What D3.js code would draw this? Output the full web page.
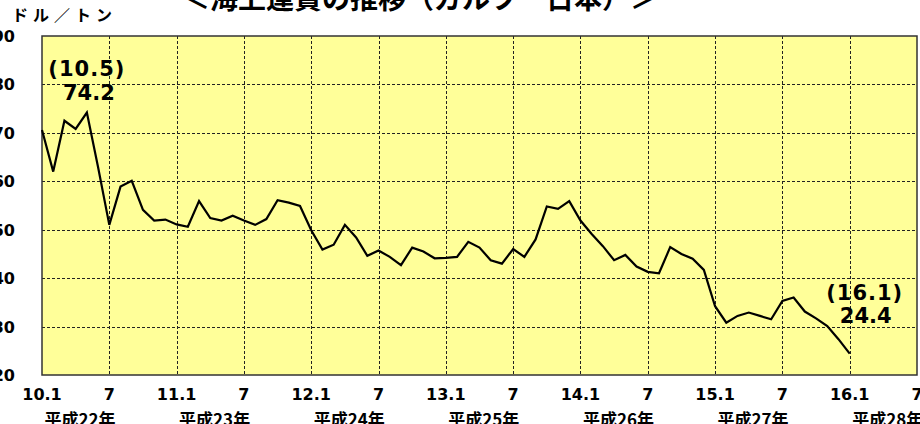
<!DOCTYPE html>
<html>
<head>
<meta charset="utf-8">
<script src="https://cdn.jsdelivr.net/npm/d3@7"></script>
<style>
  body { margin: 0; background: #fff; }
  svg { display: block; }
</style>
</head>
<body>
<svg id="chart" width="920" height="424"></svg>
<script>
// monthly freight, 2010.1 .. 2016.1 (USD/t)
const freight = [
    70.6, 62.0, 72.5, 70.8, 74.2, 62.9, 51.0, 58.9, 60.1, 54.1, 51.9, 52.1,
    51.1, 50.6, 55.9, 52.4, 51.9, 52.9, 51.9, 51.0, 52.2, 56.1, 55.6, 54.9,
    49.9, 45.9, 46.9, 51.0, 48.4, 44.6, 45.7, 44.4, 42.7, 46.3, 45.5, 44.1,
    44.2, 44.4, 47.5, 46.3, 43.7, 43.0, 46.0, 44.4, 48.0, 54.8, 54.3, 55.9,
    51.9, 49.1, 46.6, 43.7, 44.8, 42.4, 41.3, 41.0, 46.4, 45.0, 44.0, 41.7,
    34.2, 30.8, 32.2, 32.9, 32.2, 31.5, 35.3, 36.0, 33.1, 31.7, 30.1, 27.4,
    24.4
];
const tickLabels = ["10.1", "7", "11.1", "7", "12.1", "7", "13.1", "7", "14.1", "7", "15.1", "7", "16.1", "7"];
const eraLabels = ["平成22年", "平成23年", "平成24年", "平成25年", "平成26年", "平成27年", "平成28年"];
const yTicks = [20, 30, 40, 50, 60, 70, 80, 90];
const notes = [
    { month: 4, label: "(10.5)", value: "74.2" },
    { month: 72, label: "(16.1)", value: "24.4" }
];

const svg = d3.select("#chart");
const plotL = 42, plotR = 917, plotT = 36, plotB = 375;
const latin = "'DejaVu Sans', sans-serif";
const jp = "'Noto Sans CJK JP', sans-serif";

const x = d3.scaleLinear().domain([0, 78]).range([plotL, plotR]);
const y = d3.scaleLinear().domain([20, 90]).range([plotB, plotT]);

// title, cut off by the top of the picture
svg.append("text")
    .attr("x", 420).attr("y", 9)
    .attr("text-anchor", "middle")
    .attr("font-family", jp).attr("font-weight", "bold").attr("font-size", 28)
    .text("＜海上運賃の推移（ガルフ－日本）＞");

svg.append("text")
    .attr("x", 12).attr("y", 21)
    .attr("font-family", jp).attr("font-weight", "bold").attr("font-size", 16)
    .attr("letter-spacing", 5)
    .text("ドル／トン");

// plot background
svg.append("rect")
    .attr("x", plotL).attr("y", plotT)
    .attr("width", plotR - plotL).attr("height", plotB - plotT)
    .attr("fill", "#ffff99");

// grid
const grid = svg.append("g")
    .attr("stroke", "#222").attr("stroke-width", 1).attr("stroke-dasharray", "3,2");
grid.selectAll("line.h")
    .data(yTicks.slice(1, -1))
    .join("line")
    .attr("x1", plotL).attr("x2", plotR)
    .attr("y1", d => Math.round(y(d)) + 0.5).attr("y2", d => Math.round(y(d)) + 0.5);
grid.selectAll("line.v")
    .data(d3.range(6, 78, 6))
    .join("line")
    .attr("y1", plotT).attr("y2", plotB)
    .attr("x1", d => Math.round(x(d)) + 0.5).attr("x2", d => Math.round(x(d)) + 0.5);

// frame
svg.append("rect")
    .attr("x", plotL).attr("y", plotT)
    .attr("width", plotR - plotL).attr("height", plotB - plotT)
    .attr("fill", "none").attr("stroke", "#333").attr("stroke-width", 1.5);

// y labels (partly cut at left edge)
svg.append("g").selectAll("text")
    .data(yTicks)
    .join("text")
    .attr("x", 15).attr("y", d => y(d) + 6)
    .attr("text-anchor", "end")
    .attr("font-family", latin).attr("font-weight", "bold").attr("font-size", 16)
    .text(d => d);

// x labels
svg.append("g").selectAll("text")
    .data(tickLabels)
    .join("text")
    .attr("x", (d, i) => x(i * 6))
    .attr("y", 400)
    .attr("text-anchor", "middle")
    .attr("font-family", latin).attr("font-weight", "bold").attr("font-size", 16)
    .text(d => d);

svg.append("g").selectAll("text")
    .data(eraLabels)
    .join("text")
    .attr("x", (d, i) => x(i * 12) + 38)
    .attr("y", 426)
    .attr("text-anchor", "middle")
    .attr("font-family", jp).attr("font-weight", "bold").attr("font-size", 17)
    .text(d => d);

// line
const line = d3.line()
    .x((d, i) => x(i))
    .y(d => y(d));

svg.append("path")
    .datum(freight)
    .attr("d", line)
    .attr("fill", "none")
    .attr("stroke", "#000")
    .attr("stroke-width", 2.2)
    .attr("stroke-linejoin", "miter");

// annotations
const noteG = svg.append("g")
    .attr("font-family", latin).attr("font-weight", "bold").attr("font-size", 21)
    .attr("text-anchor", "middle");
noteG.selectAll("text.l")
    .data(notes)
    .join("text")
    .attr("x", d => x(d.month) + (d.month > 40 ? 15 : 0))
    .attr("y", d => d.month > 40 ? 300 : 76)
    .attr("letter-spacing", 1)
    .text(d => d.label);
noteG.selectAll("text.v")
    .data(notes)
    .join("text")
    .attr("x", d => x(d.month) + (d.month > 40 ? 16 : 2))
    .attr("y", d => d.month > 40 ? 323 : 100)
    .text(d => d.value);
</script>
</body>
</html>
